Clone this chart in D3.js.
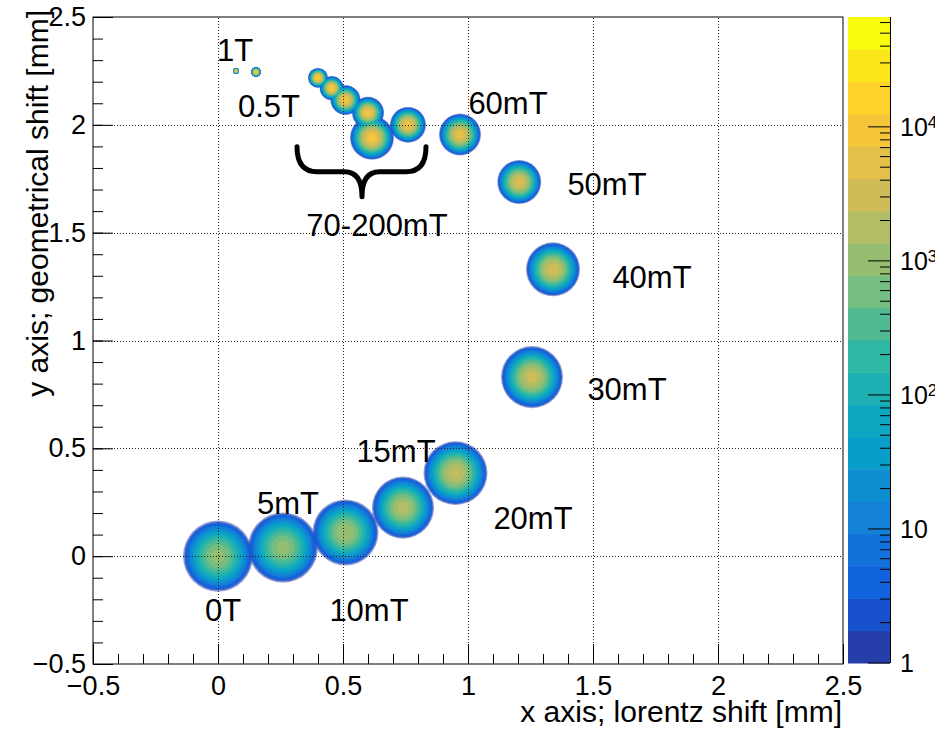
<!DOCTYPE html>
<html>
<head>
<meta charset="utf-8">
<script src="https://cdn.jsdelivr.net/npm/d3@7"></script>
<style>
  body { margin: 0; background: #fff; }
  text { font-family: "Liberation Sans", Arial, Helvetica, sans-serif; fill: #000; }
</style>
</head>
<body>
<script>

// axis ticks
const xMajor = [-0.5, 0, 0.5, 1, 1.5, 2, 2.5];
const yMajor = [-0.5, 0, 0.5, 1, 1.5, 2, 2.5];
const gridVals = [0, 0.5, 1, 1.5, 2];

// z (colour) axis
const zMax = 66000;
const zTicks = [1, 10, 100, 1000, 10000];
const zTickBase = ["1", "10", "10", "10", "10"];
const zTickExp = ["", "", "2", "3", "4"];
const nBands = 20;

// spots: centre [mm], half width x / y [mm], peak counts
const spotName = ["0T", "5mT", "10mT", "15mT", "20mT", "30mT", "40mT", "50mT", "60mT",
                  "70mT", "80mT", "90mT", "100mT", "150mT", "200mT", "0.5T", "1T"];
const spotX  = [0.00, 0.26, 0.51, 0.74, 0.95, 1.256, 1.34, 1.205, 0.968,
                0.76, 0.616, 0.60, 0.51, 0.455, 0.40, 0.152, 0.072];
const spotY  = [0.00, 0.04, 0.11, 0.225, 0.385, 0.83, 1.33, 1.735, 1.955,
                2.00, 1.94, 2.056, 2.115, 2.17, 2.218, 2.245, 2.25];
const spotRx = [0.140, 0.140, 0.132, 0.124, 0.128, 0.124, 0.108, 0.088, 0.084,
                0.072, 0.088, 0.064, 0.060, 0.048, 0.040, 0.020, 0.012];
const spotRy = [0.165, 0.163, 0.153, 0.144, 0.148, 0.144, 0.125, 0.102, 0.097,
                0.083, 0.102, 0.074, 0.069, 0.056, 0.046, 0.023, 0.014];
const spotPeak = [1000, 1000, 1300, 1800, 2500, 3000, 3500, 4500, 6000,
                  8000, 10000, 9000, 10000, 12000, 15000, 20000, 20000];

// annotations
const noteText = ["1T", "0.5T", "60mT", "50mT", "40mT", "30mT", "70-200mT",
                  "15mT", "5mT", "0T", "10mT", "20mT"];
const noteX = [0.068, 0.204, 1.16, 1.556, 1.736, 1.636, 0.636, 0.712, 0.28, 0.02, 0.604, 1.26];
const noteY = [2.296, 2.037, 2.05, 1.676, 1.245, 0.722, 1.486, 0.435, 0.194, -0.30, -0.30, 0.125];

// brace under the 70-200mT group
const braceX = [0.316, 0.576, 0.832];
const braceY = [1.898, 1.782, 1.667];

const width = 935, height = 729;

const x = d3.scaleLinear().domain([-0.5, 2.5]).range([93, 843]);
const y = d3.scaleLinear().domain([-0.5, 2.5]).range([664, 17]);
const z = d3.scaleLog().domain([1, zMax]).range([663, 17]);

// ROOT kBird palette
const birdStops = [0.0, 0.125, 0.25, 0.375, 0.5, 0.625, 0.75, 0.875, 1.0];
const birdR = [0.2082, 0.0592, 0.0780, 0.0232, 0.1802, 0.5301, 0.8186, 0.9956, 0.9764];
const birdG = [0.1664, 0.3599, 0.5041, 0.6419, 0.7178, 0.7492, 0.7328, 0.7862, 0.9832];
const birdB = [0.5293, 0.8684, 0.8385, 0.7914, 0.6425, 0.4662, 0.3499, 0.1968, 0.0539];
function bird(t) {
  t = Math.max(0, Math.min(1, t));
  let i = Math.min(7, Math.floor(t * 8));
  let f = (t - birdStops[i]) / (birdStops[i + 1] - birdStops[i]);
  let c = a => Math.round(255 * (a[i] + f * (a[i + 1] - a[i])));
  return d3.rgb(c(birdR), c(birdG), c(birdB)).toString();
}
const logMax = Math.log10(zMax);
const bandColor = k => bird((k + 0.99) / nBands);
const bandLevel = k => Math.pow(10, k * logMax / nBands);

const svg = d3.select('body').append('svg')
  .attr('width', width)
  .attr('height', height);

// spots, drawn band by band so the brighter core sits on top
const spots = spotName.map((n, i) => ({
  name: n, x: spotX[i], y: spotY[i], rx: spotRx[i], ry: spotRy[i], peak: spotPeak[i]
}));
const spotG = svg.append('g');
for (let k = 0; k < nBands; k++) {
  const lev = bandLevel(k);
  const f = d => Math.sqrt(Math.log(d.peak / lev) / Math.log(d.peak));
  spotG.append('g').selectAll('ellipse')
    .data(spots.filter(d => d.peak > lev))
    .enter().append('ellipse')
    .attr('cx', d => x(d.x))
    .attr('cy', d => y(d.y))
    .attr('rx', d => (x(d.x + d.rx) - x(d.x)) * f(d))
    .attr('ry', d => (y(d.y) - y(d.y + d.ry)) * f(d))
    .attr('fill', bandColor(k))
    // sparse low-count fringe
    .attr('fill-opacity', k == 0 ? 0.5 : (k == 1 ? 0.8 : 1));
}

// grid
const grid = svg.append('g')
  .attr('stroke', '#222').attr('stroke-width', 1).attr('stroke-dasharray', '1,2');
grid.selectAll('.gx').data(gridVals).enter().append('line')
  .attr('x1', d => Math.round(x(d)) + 0.5).attr('x2', d => Math.round(x(d)) + 0.5)
  .attr('y1', y(-0.5)).attr('y2', y(2.5));
grid.selectAll('.gy').data(gridVals).enter().append('line')
  .attr('y1', d => Math.round(y(d)) + 0.5).attr('y2', d => Math.round(y(d)) + 0.5)
  .attr('x1', x(-0.5)).attr('x2', x(2.5));

// frame
svg.append('rect')
  .attr('x', x(-0.5)).attr('y', y(2.5))
  .attr('width', x(2.5) - x(-0.5)).attr('height', y(-0.5) - y(2.5))
  .attr('fill', 'none').attr('stroke', '#000').attr('stroke-width', 1);

// axes
const xMinorAxis = d3.axisBottom(x).ticks(30).tickSize(-10).tickFormat('');
const xAxis = d3.axisBottom(x).tickValues(xMajor).tickSize(-20).tickPadding(12)
  .tickFormat(d3.format('.2~f'));
const yMinorAxis = d3.axisLeft(y).ticks(30).tickSize(-10).tickFormat('');
const yAxis = d3.axisLeft(y).tickValues(yMajor).tickSize(-20).tickPadding(7)
  .tickFormat(d3.format('.2~f'));

[[xMinorAxis, 'b'], [xAxis, 'b'], [yMinorAxis, 'l'], [yAxis, 'l']].forEach(([ax, side]) => {
  const g = svg.append('g')
    .attr('transform', side == 'b' ? `translate(0,${y(-0.5)})` : `translate(${x(-0.5)},0)`)
    .call(ax);
  g.select('.domain').remove();
  g.selectAll('line').attr('stroke', '#000');
  g.selectAll('text').attr('font-size', 27).attr('fill', '#000')
    .style('font-family', '"Liberation Sans", Arial, sans-serif');
});

// axis titles
svg.append('text')
  .attr('x', 842).attr('y', 722)
  .attr('text-anchor', 'end').attr('font-size', 30)
  .text('x axis; lorentz shift [mm]');
svg.append('text')
  .attr('transform', 'translate(48,10) rotate(-90)')
  .attr('text-anchor', 'end').attr('font-size', 30)
  .text('y axis; geometrical shift [mm]');

// colour bar
const bar = svg.append('g');
bar.selectAll('rect').data(d3.range(nBands)).enter().append('rect')
  .attr('x', 848).attr('width', 42)
  .attr('y', k => z(bandLevel(k + 1)))
  .attr('height', k => z(bandLevel(k)) - z(bandLevel(k + 1)) + 0.5)
  .attr('fill', k => bandColor(k));
bar.append('line')
  .attr('x1', 890.5).attr('x2', 890.5).attr('y1', z(zMax)).attr('y2', z(1))
  .attr('stroke', '#000');
const zMinor = z.ticks().filter(v => zTicks.indexOf(v) < 0);
bar.selectAll('.zmin').data(zMinor).enter().append('line')
  .attr('x1', 880).attr('x2', 890).attr('y1', d => z(d)).attr('y2', d => z(d))
  .attr('stroke', '#000');
bar.selectAll('.zmaj').data(zTicks).enter().append('line')
  .attr('x1', 868).attr('x2', 890).attr('y1', d => z(d)).attr('y2', d => z(d))
  .attr('stroke', '#000');
const zl = bar.selectAll('.zlab').data(zTicks).enter().append('text')
  .attr('x', 900).attr('y', d => z(d)).attr('dy', '0.36em')
  .attr('font-size', 25);
zl.append('tspan').text((d, i) => zTickBase[i]);
zl.append('tspan').attr('dy', '-0.45em').attr('font-size', 17).text((d, i) => zTickExp[i]);

// annotations
svg.append('g').selectAll('text').data(noteText).enter().append('text')
  .attr('x', (d, i) => x(noteX[i]))
  .attr('y', (d, i) => y(noteY[i]))
  .attr('text-anchor', 'middle')
  .attr('font-size', 31)
  .text(d => d);

// brace
const bp = d3.path();
bp.moveTo(x(braceX[0]), y(braceY[0]));
bp.quadraticCurveTo(x(braceX[0]), y(braceY[1]), x(braceX[0] + 0.08), y(braceY[1]));
bp.lineTo(x(braceX[1] - 0.07), y(braceY[1]));
bp.quadraticCurveTo(x(braceX[1]), y(braceY[1]), x(braceX[1]), y(braceY[2]));
bp.quadraticCurveTo(x(braceX[1]), y(braceY[1]), x(braceX[1] + 0.07), y(braceY[1]));
bp.lineTo(x(braceX[2] - 0.08), y(braceY[1]));
bp.quadraticCurveTo(x(braceX[2]), y(braceY[1]), x(braceX[2]), y(braceY[0]));
svg.append('path')
  .attr('d', bp.toString())
  .attr('fill', 'none').attr('stroke', '#000').attr('stroke-width', 5)
  .attr('stroke-linecap', 'round').attr('stroke-linejoin', 'round');

</script>
</body>
</html>
